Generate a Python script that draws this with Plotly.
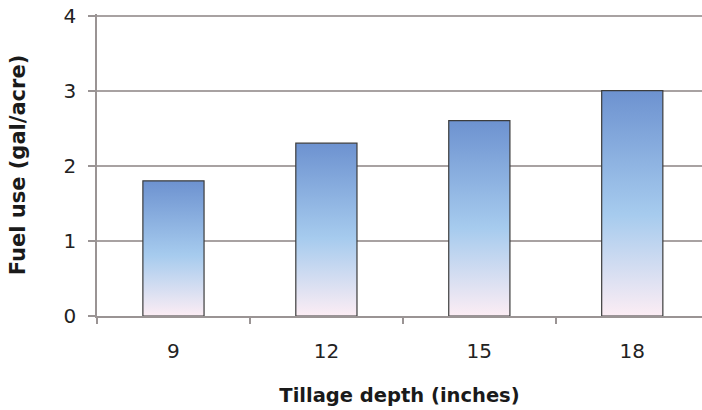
import plotly.graph_objects as go

categories = ["9", "12", "15", "18"]
fuel_use = [1.8, 2.3, 2.6, 3.0]
y_ticks = [0, 1, 2, 3, 4]

bar_half = 0.2
grad = [[0, "#fcedf4"], [0.45, "#a6cbee"], [1, "#6d92d0"]]

fig = go.Figure()
for i, v in enumerate(fuel_use):
    fig.add_trace(go.Scatter(
        x=[i - bar_half, i - bar_half, i + bar_half, i + bar_half, i - bar_half],
        y=[0, v, v, 0, 0],
        mode="lines",
        fill="toself",
        fillgradient=dict(type="vertical", colorscale=grad),
        line=dict(color="#3c3c3c", width=1.2),
        showlegend=False,
        hoverinfo="skip",
    ))

fig.update_layout(
    width=702, height=410,
    margin=dict(l=97, r=0, t=13.5, b=94),
    paper_bgcolor="white", plot_bgcolor="white",
    font=dict(family="DejaVu Sans", color="#222222"),
    xaxis=dict(
        range=[-0.5, 3.456], automargin=False,
        tickmode="array", tickvals=list(range(len(categories))), ticktext=categories,
        ticks="", showgrid=False, zeroline=False,
        showline=True, linecolor="#9a9494", linewidth=1.5,
        tickfont=dict(size=20), ticklabelstandoff=16,
        minor=dict(tickmode="array", tickvals=[-0.5, 0.5, 1.5, 2.5, 3.5],
                   ticks="outside", ticklen=6, tickcolor="#9a9494", tickwidth=1.5,
                   showgrid=False),
        title=dict(text="<b>Tillage depth (inches)</b>", font=dict(size=19.5, color="#1a1a1a"), standoff=27),
        fixedrange=True,
    ),
    yaxis=dict(
        range=[0, 4.02], automargin=False,
        tickmode="array", tickvals=y_ticks,
        ticks="outside", ticklen=7, tickcolor="#9a9494", tickwidth=1.5,
        showgrid=True, gridcolor="#a8a2a2", gridwidth=1.5,
        zeroline=False,
        showline=True, linecolor="#9a9494", linewidth=1.5,
        tickfont=dict(size=20), ticklabelstandoff=8,
        title=dict(text="<b>Fuel use (gal/acre)</b>", font=dict(size=21, color="#1a1a1a"), standoff=32),
        fixedrange=True,
    ),
)

fig.write_html("out.html", config={"displayModeBar": False},
               post_script="document.body.style.margin='0';")
